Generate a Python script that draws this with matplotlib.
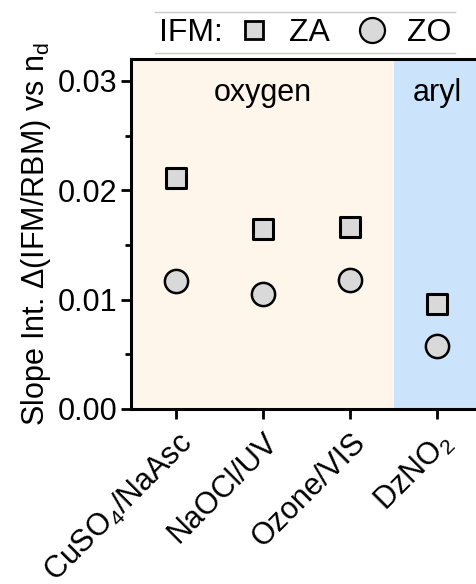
import matplotlib
matplotlib.use("Agg")
import matplotlib.pyplot as plt
from matplotlib.lines import Line2D
from matplotlib.ticker import MultipleLocator

plt.rcParams['font.family'] = ['Liberation Sans', 'DejaVu Sans']
plt.rcParams['mathtext.fontset'] = 'custom'
plt.rcParams['mathtext.rm'] = 'Liberation Sans'
plt.rcParams['mathtext.it'] = 'Liberation Sans'

categories = ["CuSO$_4$/NaAsc", "NaOCl/UV", "Ozone/VIS", "DzNO$_2$"]
za_values = [0.0211, 0.0165, 0.0166, 0.0096]
zo_values = [0.0117, 0.0105, 0.0118, 0.0058]
region_labels = ["oxygen", "aryl"]

fig = plt.figure(figsize=(4.77, 5.84), dpi=100)
ax = fig.add_axes([0.2746, 0.2997, 0.7254, 0.5993])

x = list(range(len(categories)))
ax.axvspan(-0.6, 2.5, color='#fef5eb', zorder=0, lw=0)
ax.axvspan(2.5, 3.6, color='#cbe3fb', zorder=0, lw=0)

ax.scatter(x, za_values, marker='s', s=190, facecolor='#d9d9d9', edgecolor='black', linewidth=2.2, zorder=3)
ax.scatter(x, zo_values, marker='o', s=280, facecolor='#d9d9d9', edgecolor='black', linewidth=1.8, zorder=3)

ax.set_xlim(-0.52, 3.46)
ax.set_ylim(0, 0.032)
ax.set_xticks(x)
ax.set_xticklabels(categories, rotation=45, ha='right', rotation_mode='anchor', fontsize=22)
ax.set_yticks([0, 0.01, 0.02, 0.03])
ax.set_yticklabels(["0.00", "0.01", "0.02", "0.03"], fontsize=22)
ax.yaxis.set_minor_locator(MultipleLocator(0.005))
ax.tick_params(axis='both', which='major', direction='out', length=7, width=2, pad=3)
ax.tick_params(axis='y', which='minor', direction='out', length=4, width=2)
ax.tick_params(axis='x', which='major', pad=6)

for s in ['left', 'bottom', 'top']:
    ax.spines[s].set_linewidth(2.2)
ax.spines['right'].set_visible(False)

ax.set_ylabel("Slope Int. \u0394(IFM/RBM) vs n$_\\mathrm{d}$", fontsize=22, labelpad=3)

ax.text(1.0, 0.0289, region_labels[0], ha='center', va='center', fontsize=22)
ax.text(3.0, 0.0289, region_labels[1], ha='center', va='center', fontsize=22)

# legend
fig.add_artist(Line2D([155/477, 455/477], [1-12/584, 1-12/584], color='#c8c8c8', lw=1))
fig.add_artist(Line2D([155/477, 455/477], [1-53/584, 1-53/584], color='#c8c8c8', lw=1))
fig.text(159/477, 1-33/584, "IFM:", fontsize=23, ha='left', va='center')
handles = [
    Line2D([], [], marker='s', linestyle='none', markersize=13.5, markerfacecolor='#d9d9d9', markeredgecolor='black', markeredgewidth=2),
    Line2D([], [], marker='o', linestyle='none', markersize=18, markerfacecolor='#d9d9d9', markeredgecolor='black', markeredgewidth=1.6),
]
fig.legend(handles, ["ZA", "ZO"], loc='center left', bbox_to_anchor=(238/477, 1-33/584), ncol=2,
           frameon=False, fontsize=23, handlelength=1.0, handletextpad=0.6, columnspacing=0.8,
           borderaxespad=0, borderpad=0)

fig.savefig("out.png", dpi=100)
